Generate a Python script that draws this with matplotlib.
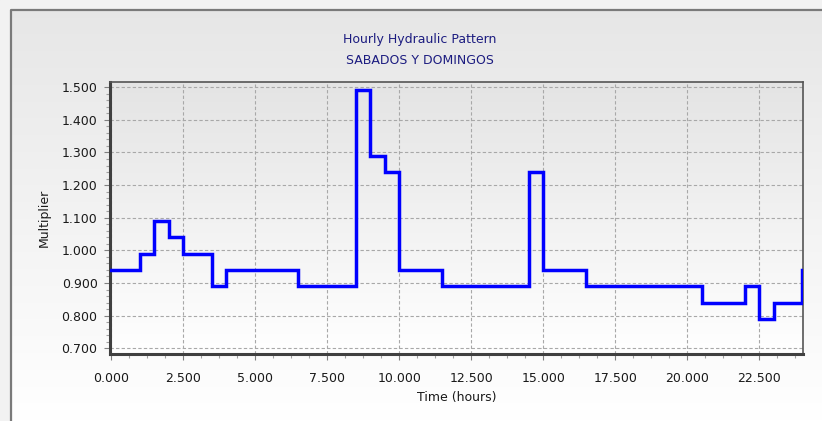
import numpy as np
import matplotlib
matplotlib.use("Agg")
import matplotlib.pyplot as plt
from matplotlib.ticker import MultipleLocator, AutoMinorLocator, FormatStrFormatter
from matplotlib.patches import Rectangle

# Pattern data (step changes, hours -> multiplier)
times = [0, 1, 1.5, 2, 2.5, 3.5, 4, 6.5, 8.5, 9, 9.5, 10, 11.5, 14.5, 15, 16.5, 20.5, 22, 22.5, 23, 24]
multipliers = [0.94, 0.99, 1.09, 1.04, 0.99, 0.89, 0.94, 0.89, 1.49, 1.29, 1.24, 0.94, 0.89, 1.24, 0.94,
               0.89, 0.84, 0.89, 0.79, 0.84, 0.94]

title = "Hourly Hydraulic Pattern"
subtitle = "SABADOS Y DOMINGOS"

plt.rcParams["font.family"] = ["DejaVu Sans"]

fig = plt.figure(figsize=(8.22, 4.21), dpi=100)

# Figure background: gray gradient inside a framed panel
bg = fig.add_axes([0, 0, 1, 1], zorder=-10)
grad = np.linspace(0, 1, 256).reshape(-1, 1)
bg.imshow(grad, extent=[0, 1, 0, 1], aspect="auto", cmap=matplotlib.colors.LinearSegmentedColormap.from_list(
    "g", ["#e6e6e6", "#ffffff"]), origin="upper")
bg.set_xlim(0, 1)
bg.set_ylim(0, 1)
bg.axis("off")
bg.add_patch(Rectangle((0, 1 - 10 / 421), 1, 10 / 421, color="#f2f2f2", zorder=2))
bg.add_patch(Rectangle((0, 0), 11 / 822, 1, color="#f2f2f2", zorder=2))
bg.plot([11 / 822, 11 / 822, 1], [0, 1 - 10 / 421, 1 - 10 / 421], color="#7a7a7a", lw=1.6, zorder=3)

ax = fig.add_axes([110 / 822, 1 - 354 / 421, 693 / 822, 272 / 421])
ax.set_xlim(-0.045, 24.02)
ax.set_ylim(0.6825, 1.516)

# axes gradient background
ax.imshow(grad, extent=[-0.045, 24.02, 0.6825, 1.516], aspect="auto", origin="upper", zorder=0,
          cmap=matplotlib.colors.LinearSegmentedColormap.from_list("a", ["#e4e4e4", "#ffffff"]))

ax.plot(times, multipliers, drawstyle="steps-post", color="#0000ff", lw=2.5, zorder=3,
        solid_joinstyle="miter")

ax.xaxis.set_major_locator(MultipleLocator(2.5))
ax.xaxis.set_minor_locator(AutoMinorLocator(4))
ax.yaxis.set_major_locator(MultipleLocator(0.1))
ax.yaxis.set_minor_locator(AutoMinorLocator(5))
ax.xaxis.set_major_formatter(FormatStrFormatter("%.3f"))
ax.yaxis.set_major_formatter(FormatStrFormatter("%.3f"))

ax.grid(True, which="major", color="#a8a8a8", linestyle=(0, (3, 2)), lw=0.8, zorder=1)
ax.tick_params(which="major", length=4, width=0.8, color="#808080", labelsize=9, labelcolor="#1a1a1a")
ax.tick_params(axis="x", which="major", pad=9)
ax.tick_params(axis="y", which="major", pad=5)
ax.tick_params(which="minor", length=3, width=0.8, color="#a0a0a0")

for side in ["top", "right"]:
    ax.spines[side].set_color("#555555")
    ax.spines[side].set_linewidth(1.2)
for side in ["left", "bottom"]:
    ax.spines[side].set_color("#404040")
    ax.spines[side].set_linewidth(2.2)

ax.set_xlabel("Time (hours)", fontsize=9, color="#1a1a1a", labelpad=4)
ax.set_ylabel("Multiplier", fontsize=9, color="#1a1a1a", labelpad=8)

fig.text(420 / 822, 1 - 40 / 421, title, ha="center", va="center", fontsize=9, color="#1c1c80")
fig.text(420 / 822, 1 - 60 / 421, subtitle, ha="center", va="center", fontsize=9, color="#1c1c80")

fig.savefig("out.png", dpi=100)
